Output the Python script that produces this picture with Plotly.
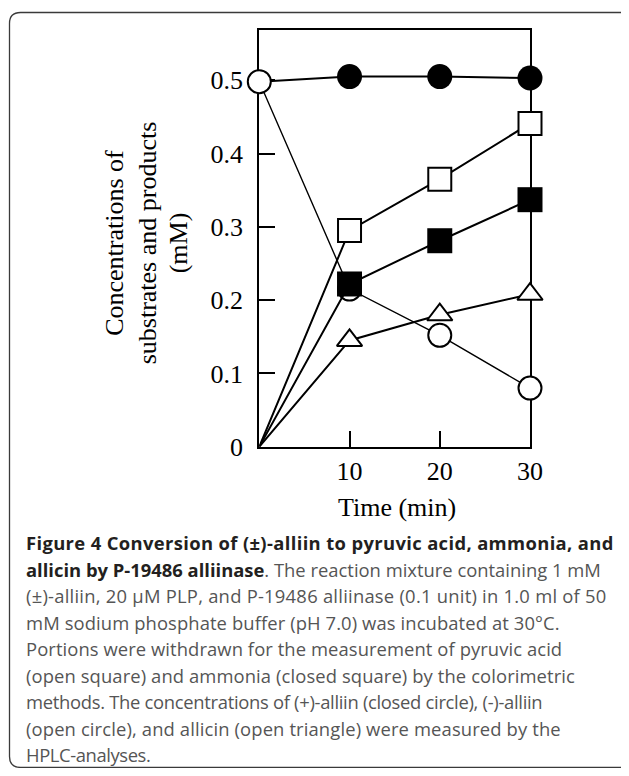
import plotly.graph_objects as go

# ---- data ----
time_min = [0, 10, 20, 30]
plus_alliin = [0.498, 0.505, 0.505, 0.503]     # closed circle
minus_alliin = [0.498, 0.215, 0.152, 0.080]    # open circle
pyruvic_acid = [0.0, 0.295, 0.365, 0.441]      # open square
ammonia = [0.0, 0.222, 0.281, 0.337]           # closed square
allicin = [0.0, 0.145, 0.180, 0.208]           # open triangle

x_ticks = [10, 20, 30]
x_tick_labels = ["10", "20", "30"]
y_ticks = [0, 0.1, 0.2, 0.3, 0.4, 0.5]
y_tick_labels = ["0", "0.1", "0.2", "0.3", "0.4", "0.5"]

y_title_lines = ["Concentrations of", "substrates and products", "(mM)"]
x_title = "Time (min)"

caption_lines = [
    "<b>Figure 4 Conversion of (±)-alliin to pyruvic acid, ammonia, and</b>",
    "<b>allicin by P-19486 alliinase</b>. The reaction mixture containing 1 mM",
    "(±)-alliin, 20 μM PLP, and P-19486 alliinase (0.1 unit) in 1.0 ml of 50",
    "mM sodium phosphate buffer (pH 7.0) was incubated at 30°C.",
    "Portions were withdrawn for the measurement of pyruvic acid",
    "(open square) and ammonia (closed square) by the colorimetric",
    "methods. The concentrations of (+)-alliin (closed circle), (-)-alliin",
    "(open circle), and allicin (open triangle) were measured by the",
    "HPLC-analyses.",
]
# per-line letter spacing (px) to mimic the original caption typeface widths
caption_spacing = [0.36, 0.0, 0.24, 0.1, 0.08, 0.1, -0.3, 0.13, -0.4]

# the page has an 8px body margin: figure is shrunk so the page is 629x776
PAGE_W, PAGE_H, BODY = 629, 776, 8
W, H = PAGE_W - 2 * BODY, PAGE_H - 2 * BODY
def px(x):
    return (x - BODY) / W
def py(y):
    return 1 - (y - BODY) / H

MS = 23
serif = "Liberation Serif, Times New Roman, serif"

fig = go.Figure()

def sizes(s):
    return [0] + [s] * (len(time_min) - 1)

# (+)-alliin closed circle (shares the open circle at t=0)
fig.add_trace(go.Scatter(
    x=time_min, y=plus_alliin, mode="lines+markers",
    line=dict(color="black", width=2),
    marker=dict(symbol="circle", color="black", size=sizes(MS + 2), opacity=1,
                line=dict(width=0)),
    cliponaxis=False, showlegend=False))

# (-)-alliin open circle
fig.add_trace(go.Scatter(
    x=time_min, y=minus_alliin, mode="lines+markers",
    line=dict(color="black", width=1.4),
    marker=dict(symbol="circle", color="white", size=MS, opacity=1,
                line=dict(color="black", width=2)),
    cliponaxis=False, showlegend=False))

# pyruvic acid open square
fig.add_trace(go.Scatter(
    x=time_min, y=pyruvic_acid, mode="lines+markers",
    line=dict(color="black", width=2),
    marker=dict(symbol="square", color="white", size=sizes(MS), opacity=1,
                line=dict(color="black", width=2)),
    cliponaxis=False, showlegend=False))

# ammonia closed square
fig.add_trace(go.Scatter(
    x=time_min, y=ammonia, mode="lines+markers",
    line=dict(color="black", width=2),
    marker=dict(symbol="square", color="black", size=sizes(MS + 2), opacity=1,
                line=dict(width=0)),
    cliponaxis=False, showlegend=False))

# allicin open triangle
fig.add_trace(go.Scatter(
    x=time_min, y=allicin, mode="lines+markers",
    line=dict(color="black", width=2),
    marker=dict(symbol="triangle-up", color="white", size=sizes(22), opacity=1,
                line=dict(color="black", width=2)),
    cliponaxis=False, showlegend=False))

fig.update_layout(
    width=W, height=H, autosize=False,
    margin=dict(l=0, r=0, t=0, b=0, autoexpand=False),
    paper_bgcolor="white", plot_bgcolor="white",
    xaxis=dict(domain=[px(259.3), px(530)], range=[0, 30],
               tickvals=x_ticks, ticktext=x_tick_labels,
               ticks="inside", ticklen=16, tickwidth=2, tickcolor="black",
               showline=True, mirror=True, linewidth=2, linecolor="black",
               showgrid=False, zeroline=False, layer="below traces",
               automargin=False,
               tickfont=dict(family=serif, size=26, color="black"),
               ticklabelstandoff=0),
    yaxis=dict(domain=[py(446.7), py(30)], range=[0, 0.5685],
               tickvals=y_ticks, ticktext=y_tick_labels,
               ticks="inside", ticklen=16, tickwidth=2, tickcolor="black",
               showline=True, mirror=True, linewidth=2, linecolor="black",
               showgrid=False, zeroline=False, layer="below traces",
               automargin=False,
               tickfont=dict(family=serif, size=26, color="black"),
               ticklabelstandoff=9),
)

annotations = []
for xc, line in zip([114.5, 147, 178], y_title_lines):
    annotations.append(dict(
        x=px(xc), y=py(243.3), xref="paper", yref="paper", textangle=-90,
        text=line, showarrow=False, xanchor="center", yanchor="middle",
        font=dict(family=serif, size=26, color="black")))
annotations.append(dict(
    x=px(397), y=py(507), xref="paper", yref="paper",
    text=x_title, showarrow=False, xanchor="center", yanchor="middle",
    font=dict(family=serif, size=26, color="black")))

for i, (line, ls) in enumerate(zip(caption_lines, caption_spacing)):
    t = line.replace("<b>", '<b><span style="color:#231f20">').replace("</b>", "</span></b>")
    t = f'<span style="letter-spacing:{ls}px">{t}</span>'
    annotations.append(dict(
        x=px(24), y=py(542.5 + 26.5 * i), xref="paper", yref="paper",
        text=t, showarrow=False, xanchor="left", yanchor="middle", align="left",
        font=dict(family="Open Sans, sans-serif", size=18.4, color="#555555")))
fig.update_layout(annotations=annotations)

# rounded frame around the figure
r_x, r_y = 11 / W, 11 / H
L, T, B, R = px(9.5), py(12.5), py(767.4), px(650)
path = (f"M {L} {T - r_y} L {L} {B + r_y} Q {L} {B} {L + r_x} {B} "
        f"L {R} {B} L {R} {T} L {L + r_x} {T} Q {L} {T} {L} {T - r_y} Z")
fig.add_shape(type="path", path=path, xref="paper", yref="paper",
              line=dict(color="#3a3a3a", width=1.3), fillcolor="rgba(0,0,0,0)", layer="below")

fig.write_html("out.html")
